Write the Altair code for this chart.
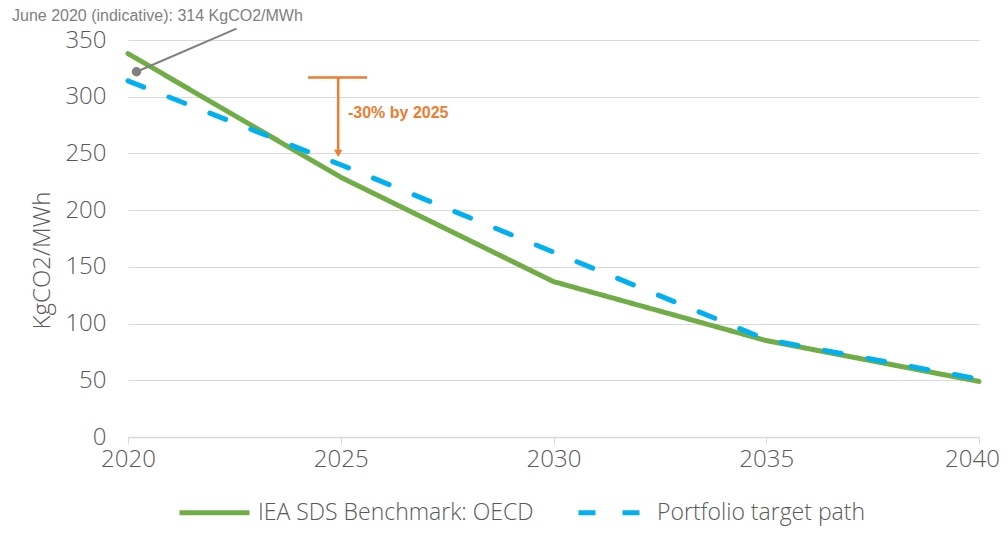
import altair as alt
import pandas as pd

years = [2020, 2025, 2030, 2035, 2040]
iea_oecd = [338, 229, 137, 85, 49]
target_path = [314, 240, 163, 86, 51]
series_names = ["IEA SDS Benchmark: OECD", "Portfolio target path"]
y_ticks = [0, 50, 100, 150, 200, 250, 300, 350]
x_ticks = [2020, 2025, 2030, 2035, 2040]

note_text = ["June 2020 (indicative): 314 KgCO2/MWh"]
note_dot = [2020.2, 322]
note_line_end = [2022.55, 360]
cut_text = ["-30% by 2025"]
cut_bar = [2024.23, 2025.62, 317]
cut_arrow = [2024.94, 317, 250]
cut_label = [2025.17, 286]

FONT = "Open Sans"
GREY = "#595959"
FS = 24

rows = []
for y, a, b in zip(years, iea_oecd, target_path):
    rows.append({"year": y, "value": a, "series": series_names[0]})
    rows.append({"year": y, "value": b, "series": series_names[1]})
df = pd.DataFrame(rows)

xs = alt.Scale(domain=[2020, 2040], nice=False, zero=False)
ys = alt.Scale(domain=[0, 350], nice=False)

lines = alt.Chart(df).mark_line(strokeWidth=5, strokeCap="round").encode(
    x=alt.X("year:Q", scale=xs, title=None,
            axis=alt.Axis(values=x_ticks, format="d", grid=False, labelFontSize=FS,
                          labelColor=GREY, labelFont=FONT, labelFontWeight=300,
                          labelFlush=False, labelOverlap=False,
                          labelOffset={"condition": {"test": "datum.value === 2040", "value": -7}, "value": 0},
                          domainColor="#d9d9d9", domainWidth=1.5, tickColor="#d9d9d9",
                          tickSize=7, labelPadding=3)),
    y=alt.Y("value:Q", scale=ys, title="KgCO2/MWh",
            axis=alt.Axis(values=y_ticks, domain=False, ticks=False, labelFontSize=FS,
                          labelColor=GREY, labelFont=FONT, labelFontWeight=300,
                          gridColor="#d9d9d9", gridWidth=1.2, labelPadding=22,
                          titleFontSize=FS, titleColor=GREY, titleFont=FONT,
                          titleFontWeight=300, titlePadding=10, titleY=220)),
    color=alt.Color("series:N", scale=alt.Scale(domain=series_names, range=["#70AD47", "#00B0F0"]),
                    legend=alt.Legend(title=None, orient="none", legendX=49, legendY=435,
                                      direction="horizontal", symbolType="stroke",
                                      symbolSize=4900, symbolStrokeWidth=5, labelFontSize=23,
                                      labelColor=GREY, labelFont=FONT, labelFontWeight=300,
                                      columnPadding=34, labelOffset=6, labelLimit=400)),
    strokeDash=alt.StrokeDash("series:N", scale=alt.Scale(domain=series_names, range=[[1, 0], [17, 27]]),
                              legend=None),
)

# annotation: pointer
ptr_df = pd.DataFrame({"x": [note_dot[0]], "y": [note_dot[1]], "x2": [note_line_end[0]], "y2": [note_line_end[1]]})
ptr = alt.Chart(ptr_df).mark_rule(color="#7f7f7f", strokeWidth=2, clip=False).encode(
    x=alt.X("x:Q", scale=xs), y=alt.Y("y:Q", scale=ys), x2="x2:Q", y2="y2:Q")
dot = alt.Chart(ptr_df).mark_point(filled=True, color="#7f7f7f", size=90, opacity=1).encode(
    x=alt.X("x:Q", scale=xs), y=alt.Y("y:Q", scale=ys))
note = alt.Chart(pd.DataFrame({"t": note_text})).mark_text(
    font="Liberation Sans", fontSize=16, color="#7f7f7f", align="left", baseline="middle").encode(
    x=alt.value(-116), y=alt.value(-24), text="t:N")

# orange arrow
bar_df = pd.DataFrame({"x": [cut_bar[0]], "x2": [cut_bar[1]], "y": [cut_bar[2]]})
bar = alt.Chart(bar_df).mark_rule(color="#ED7D31", strokeWidth=2.5).encode(
    x=alt.X("x:Q", scale=xs), x2="x2:Q", y=alt.Y("y:Q", scale=ys))
arr_df = pd.DataFrame({"x": [cut_arrow[0]], "y": [cut_arrow[1]], "y2": [cut_arrow[2]]})
arr = alt.Chart(arr_df).mark_rule(color="#ED7D31", strokeWidth=2.5).encode(
    x=alt.X("x:Q", scale=xs), y=alt.Y("y:Q", scale=ys), y2="y2:Q")
head = alt.Chart(arr_df).mark_point(shape="triangle-down", filled=True, color="#ED7D31", size=70, opacity=1).encode(
    x=alt.X("x:Q", scale=xs), y=alt.Y("y2:Q", scale=ys))
lab_df = pd.DataFrame({"x": [cut_label[0]], "y": [cut_label[1]], "t": cut_text})
lab = alt.Chart(lab_df).mark_text(font="Liberation Sans", fontSize=16, fontWeight="bold",
                                  color="#ED7D31", align="left", baseline="middle").encode(
    x=alt.X("x:Q", scale=xs), y=alt.Y("y:Q", scale=ys), text="t:N")

chart = alt.layer(lines, ptr, dot, note, bar, arr, head, lab).properties(
    width=851, height=397,
    autosize=alt.AutoSizeParams(type="none"),
    padding={"left": 120, "top": 32, "right": 21, "bottom": 89},
).configure_view(stroke=None)

chart.save("out.html", embed_options={"renderer": "svg", "actions": False})
